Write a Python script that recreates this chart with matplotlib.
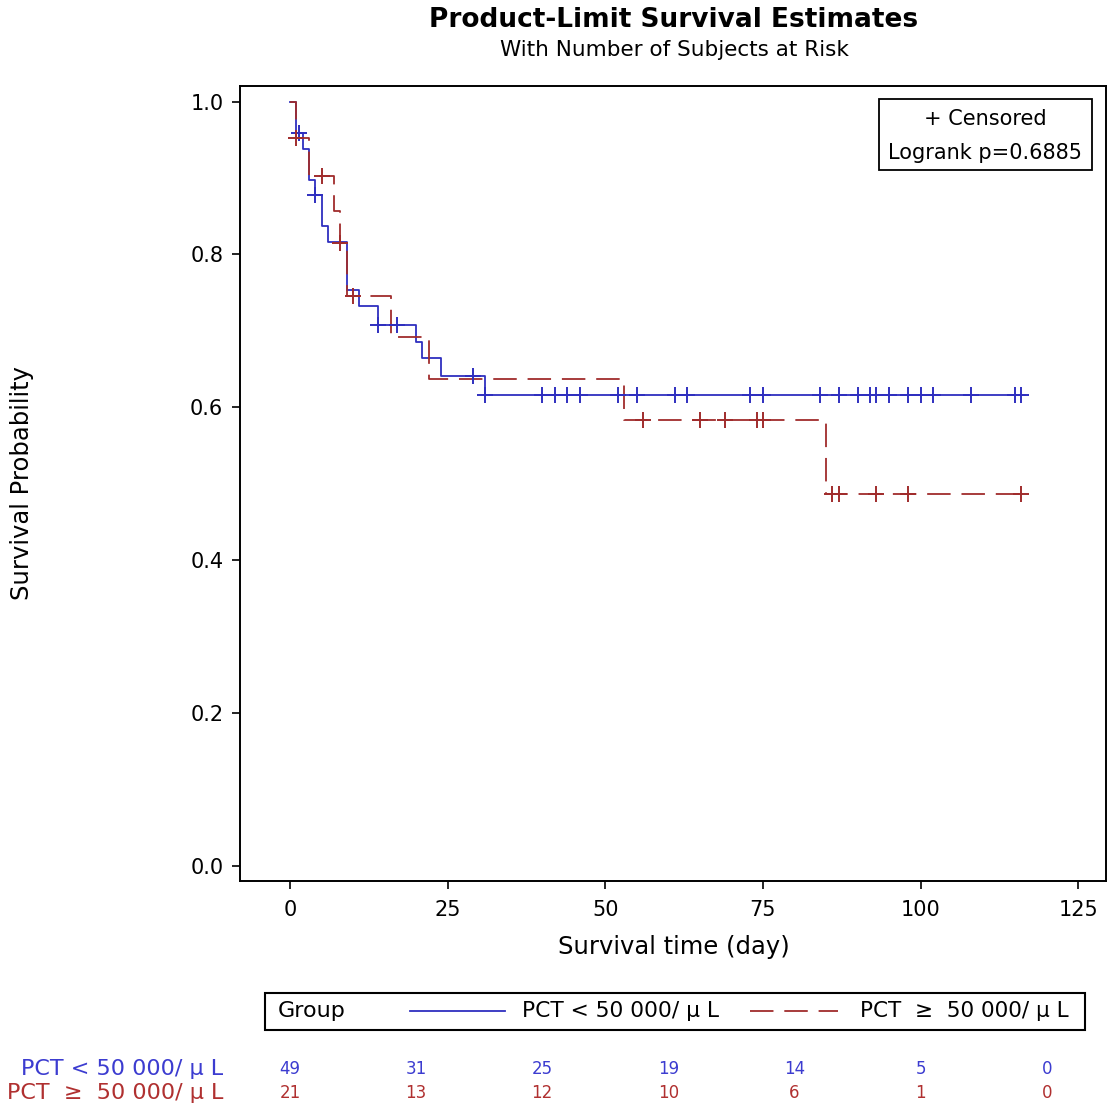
import numpy as np
import matplotlib
matplotlib.use("Agg")
import matplotlib.pyplot as plt
from matplotlib.lines import Line2D
from matplotlib.patches import Rectangle
from matplotlib.transforms import blended_transform_factory

plt.rcParams["font.family"] = ["DejaVu Sans"]

# --- data ---
group_labels = ["PCT < 50 000/ µ L", "PCT  ≥  50 000/ µ L"]

# group 1 (blue): event times and survival after each drop
blue_drop_t = [1, 2, 3, 4, 5, 6, 9, 11, 14, 20, 21, 24, 31]
blue_surv = [0.959, 0.938, 0.898, 0.878, 0.837, 0.816, 0.754, 0.732, 0.708,
             0.686, 0.664, 0.641, 0.616]
blue_end = 116.5
blue_cens = [1.5, 4, 14, 17, 29, 31, 40, 42, 44, 46, 52, 55, 61, 63, 73, 75,
             84, 87, 90, 92, 93, 95, 98, 100, 102, 108, 115, 116]

# group 2 (red)
red_drop_t = [1, 3, 7, 8, 9, 16, 22, 53, 85]
red_surv = [0.952, 0.903, 0.857, 0.815, 0.745, 0.692, 0.637, 0.584, 0.487]
red_end = 116.5
red_cens = [1, 5, 8, 10, 56, 65, 69, 74, 75, 86, 87, 93, 98, 116]

risk_times = [0, 20, 40, 60, 80, 100, 120]
blue_risk = [49, 31, 25, 19, 14, 5, 0]
red_risk = [21, 13, 12, 10, 6, 1, 0]

BLUE = "#2f2fbf"
RED = "#a02c2c"
BLUE_TXT = "#3c3cd0"
RED_TXT = "#b03030"
DASH = (0, (13, 6))

W = 1107.0
fig = plt.figure(figsize=(11.07, 11.07), dpi=100)
ax = fig.add_axes([240 / W, 1 - 881 / W, (1106 - 240) / W, (881 - 86) / W])


def step_xy(drops, surv, end):
    x = [0] + list(drops) + [end]
    y = [1.0] + list(surv) + [surv[-1]]
    return x, y


def surv_at(drops, surv, t):
    i = np.searchsorted(drops, t, side="right")
    return 1.0 if i == 0 else surv[i - 1]


bx, by = step_xy(blue_drop_t, blue_surv, blue_end)
rx, ry = step_xy(red_drop_t, red_surv, red_end)

ax.step(bx, by, where="post", color=BLUE, lw=1.3, zorder=2)
ax.step(rx, ry, where="post", color=RED, lw=1.3, linestyle=DASH, zorder=3)

ax.plot(blue_cens, [surv_at(blue_drop_t, blue_surv, t) for t in blue_cens],
        linestyle="none", marker="+", ms=11, mew=1.4, color=BLUE, zorder=4)
ax.plot(red_cens, [surv_at(red_drop_t, red_surv, t) for t in red_cens],
        linestyle="none", marker="+", ms=11, mew=1.4, color=RED, zorder=4)

ax.set_xlim(-7.93, 129.4)
ax.set_ylim(-0.020, 1.0205)
ax.set_xticks([0, 25, 50, 75, 100, 125])
ax.set_yticks([0.0, 0.2, 0.4, 0.6, 0.8, 1.0])
ax.yaxis.set_major_formatter(matplotlib.ticker.FormatStrFormatter("%.1f"))
ax.tick_params(direction="out", length=6, width=1.2, labelsize=15)
ax.tick_params(axis="x", pad=8)
ax.tick_params(axis="y", pad=6)
for s in ax.spines.values():
    s.set_linewidth(1.4)

# censored / logrank box
ax.add_patch(Rectangle(((879 - 240) / 866, (881 - 170) / 795), 213 / 866, 71 / 795,
                       transform=ax.transAxes, fill=False, ec="black", lw=1.3, zorder=5))
cx = (985.5 - 240) / 866
ax.text(cx, (881 - 119) / 795, "+ Censored", transform=ax.transAxes,
        ha="center", va="center", fontsize=15)
ax.text(cx, (881 - 153) / 795, "Logrank p=0.6885", transform=ax.transAxes,
        ha="center", va="center", fontsize=15)

# titles and labels
fig.text(674 / W, 1 - 20 / W, "Product-Limit Survival Estimates", ha="center",
         va="center", fontsize=19, fontweight="bold")
fig.text(674 / W, 1 - 50 / W, "With Number of Subjects at Risk", ha="center",
         va="center", fontsize=15.5)
fig.text(674 / W, 1 - 947 / W, "Survival time (day)", ha="center", va="center",
         fontsize=17.5)
fig.text(22 / W, 1 - 483 / W, "Survival Probability", ha="center", va="center",
         fontsize=17.5, rotation=90)

# group legend box
fig.patches.append(Rectangle((265 / W, 1 - 1030 / W), 820 / W, 37 / W,
                             transform=fig.transFigure, fill=False, ec="black", lw=1.5))
ly = 1 - 1011 / W
fig.text(278 / W, ly, "Group", ha="left", va="center", fontsize=16)
fig.add_artist(Line2D([410 / W, 505 / W], [ly, ly], transform=fig.transFigure,
                      color=BLUE, lw=1.3))
fig.text(522 / W, ly, group_labels[0], ha="left", va="center", fontsize=15.7)
fig.add_artist(Line2D([750 / W, 838 / W], [ly, ly], transform=fig.transFigure,
                      color=RED, lw=1.3, linestyle=DASH))
fig.text(860 / W, ly, group_labels[1], ha="left", va="center", fontsize=15.5)

# number at risk
tr = blended_transform_factory(ax.transData, fig.transFigure)
for row, (lab, vals, col) in enumerate([(group_labels[0], blue_risk, BLUE_TXT),
                                        (group_labels[1], red_risk, RED_TXT)]):
    yy = 1 - (1069 + 24 * row) / W
    fig.text(223 / W, yy, lab, ha="right", va="center", fontsize=16, color=col)
    for t, n in zip(risk_times, vals):
        ax.text(t, yy, str(n), transform=tr, ha="center", va="center",
                fontsize=12, color=col, clip_on=False)

fig.savefig("out.png", dpi=100)
